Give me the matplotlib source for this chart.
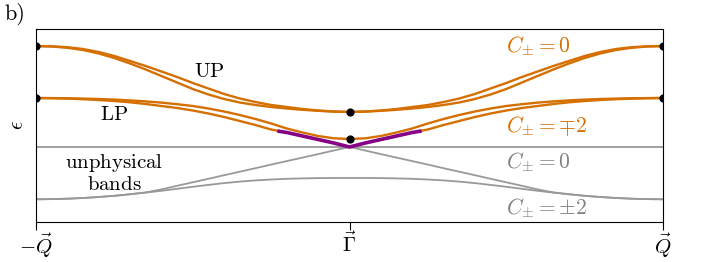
import numpy as np
import matplotlib.pyplot as plt

plt.rcParams['mathtext.fontset'] = 'cm'
plt.rcParams['font.family'] = 'serif'
plt.rcParams['font.serif'] = ['cmr10', 'DejaVu Serif']
plt.rcParams['axes.formatter.use_mathtext'] = True

# momentum path -Q -> Gamma -> Q (k = -1 .. 1), energies in arbitrary units
k = [-1.00, -0.95, -0.90, -0.85, -0.80, -0.75, -0.70, -0.65, -0.60, -0.55, -0.50,
     -0.45, -0.40, -0.35, -0.30, -0.25, -0.20, -0.15, -0.10, -0.05, 0.00,
     0.05, 0.10, 0.15, 0.20, 0.25, 0.30, 0.35, 0.40, 0.45, 0.50,
     0.55, 0.60, 0.65, 0.70, 0.75, 0.80, 0.85, 0.90, 0.95, 1.00]

# upper polariton pair
up_a = [17.60, 17.57, 17.48, 17.30, 17.00, 16.60, 16.10, 15.60, 15.05, 14.50, 13.90,
        13.35, 12.80, 12.35, 12.00, 11.70, 11.50, 11.30, 11.15, 11.05, 11.00,
        11.05, 11.15, 11.30, 11.50, 11.70, 12.00, 12.35, 12.80, 13.35, 13.90,
        14.50, 15.05, 15.60, 16.10, 16.60, 17.00, 17.30, 17.48, 17.57, 17.60]
up_b = [17.60, 17.55, 17.42, 17.20, 16.85, 16.40, 15.85, 15.25, 14.60, 13.95, 13.30,
        12.75, 12.30, 11.95, 11.70, 11.50, 11.35, 11.22, 11.12, 11.04, 11.00,
        11.04, 11.12, 11.22, 11.35, 11.50, 11.70, 11.95, 12.30, 12.75, 13.30,
        13.95, 14.60, 15.25, 15.85, 16.40, 16.85, 17.20, 17.42, 17.55, 17.60]

# lower polariton pair
lp_a = [12.40, 12.39, 12.37, 12.34, 12.30, 12.24, 12.16, 12.06, 11.94, 11.78, 11.60,
        11.35, 11.05, 10.70, 10.30, 9.85, 9.35, 8.95, 8.60, 8.37, 8.30,
        8.37, 8.60, 8.95, 9.35, 9.85, 10.30, 10.70, 11.05, 11.35, 11.60,
        11.78, 11.94, 12.06, 12.16, 12.24, 12.30, 12.34, 12.37, 12.39, 12.40]
lp_b = [12.40, 12.38, 12.34, 12.28, 12.20, 12.10, 11.97, 11.80, 11.60, 11.40, 11.15,
        10.85, 10.50, 10.10, 9.70, 9.25, 8.95, 8.60, 8.25, 7.90, 7.50,
        7.90, 8.25, 8.60, 8.95, 9.25, 9.70, 10.10, 10.50, 10.85, 11.15,
        11.40, 11.60, 11.80, 11.97, 12.10, 12.20, 12.28, 12.34, 12.38, 12.40]

# highlighted part of the lower branch near Gamma
k_dirac = [-0.23, -0.20, -0.15, -0.10, -0.05, 0.00, 0.05, 0.10, 0.15, 0.20, 0.23]
e_dirac = [9.10, 8.95, 8.60, 8.25, 7.90, 7.50, 7.90, 8.25, 8.60, 8.95, 9.10]

# unphysical bands
flat = [7.50] * len(k)
band = [2.27, 2.29, 2.33, 2.40, 2.50, 2.62, 2.77, 2.94, 3.12, 3.32, 3.52,
        3.71, 3.89, 4.04, 4.16, 4.25, 4.32, 4.36, 4.39, 4.40, 4.40,
        4.40, 4.39, 4.36, 4.32, 4.25, 4.16, 4.04, 3.89, 3.71, 3.52,
        3.32, 3.12, 2.94, 2.77, 2.62, 2.50, 2.40, 2.33, 2.29, 2.27]
cone = [2.27, 2.29, 2.33, 2.40, 2.50, 2.62, 2.78, 2.96, 3.26, 3.62, 3.97,
        4.32, 4.68, 5.03, 5.38, 5.74, 6.09, 6.44, 6.79, 7.15, 7.50,
        7.15, 6.79, 6.44, 6.09, 5.74, 5.38, 5.03, 4.68, 4.32, 3.97,
        3.62, 3.26, 2.96, 2.78, 2.62, 2.50, 2.40, 2.33, 2.29, 2.27]

# high-symmetry points
dot_k = [-1, -1, 0, 0, 1, 1]
dot_e = [17.60, 12.40, 11.00, 8.30, 17.60, 12.40]

orange = '#d46f00'
grey = '#999999'
purple = '#850085'

fig = plt.figure(figsize=(7.06, 2.62), dpi=100)
ax = fig.add_axes([36 / 706, 40 / 262, 627 / 706, 193 / 262])

ax.plot(k, flat, color=grey, lw=1.3)
ax.plot(k, band, color=grey, lw=1.3)
ax.plot(k, cone, color=grey, lw=1.3)

for e in (up_a, up_b, lp_a, lp_b):
    ax.plot(k, e, color=orange, lw=1.7)
ax.plot(k_dirac, e_dirac, color=purple, lw=2.6, solid_capstyle='butt')

ax.scatter(dot_k, dot_e, s=24, color='black', zorder=5)

ax.set_xlim(-1, 1)
ax.set_ylim(0, 19.3)
ax.set_yticks([])
ax.set_xticks([-1, 0, 1])
ax.set_xticklabels([r'$-\vec{Q}$', r'$\vec{\Gamma}$', r'$\vec{Q}$'], fontsize=15)
ax.tick_params(axis='x', length=6, width=0.8, pad=1)
ax.set_ylabel(r'$\epsilon$', fontsize=15, labelpad=6)

fs = 15
ax.text(-0.447, 15.0, r'$\mathrm{UP}$', fontsize=fs, ha='center', va='center')
ax.text(-0.75, 10.7, r'$\mathrm{LP}$', fontsize=fs, ha='center', va='center')
ax.text(-0.75, 5.9, r'$\mathrm{unphysical}$', fontsize=fs, ha='center', va='center')
ax.text(-0.75, 3.75, r'$\mathrm{bands}$', fontsize=fs, ha='center', va='center')

cs = 15.5
ax.text(0.5, 17.6, r'$C_{\pm}=0$', fontsize=cs, color=orange, ha='left', va='center')
ax.text(0.5, 9.6, r'$C_{\pm}=\mp 2$', fontsize=cs, color=orange, ha='left', va='center')
ax.text(0.5, 6.0, r'$C_{\pm}=0$', fontsize=cs, color='#808080', ha='left', va='center')
ax.text(0.5, 1.4, r'$C_{\pm}=\pm 2$', fontsize=cs, color='#808080', ha='left', va='center')

fig.text(15 / 706, 1 - 14 / 262, 'b)', fontsize=16, ha='center', va='center')

fig.savefig('out.png', dpi=100)
